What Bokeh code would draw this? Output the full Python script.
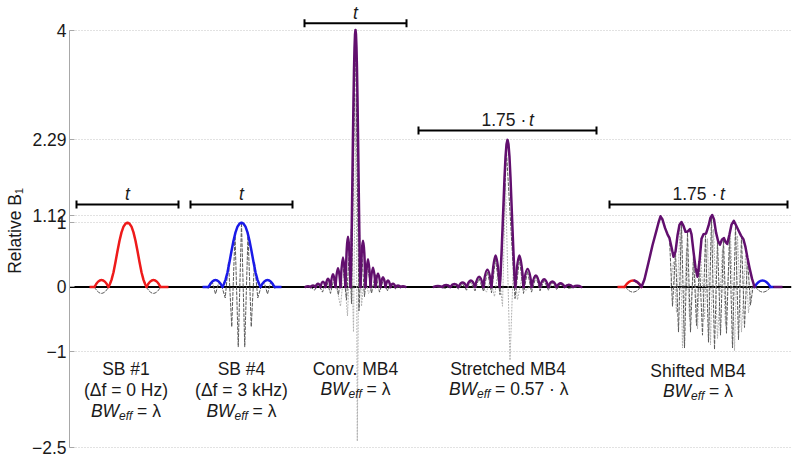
from bokeh.plotting import figure
from bokeh.models import Range1d, FixedTicker, Span
from bokeh.core.properties import value
from bokeh.embed import file_html
from bokeh.resources import INLINE

FONT = "Liberation Sans"
PURPLE = "#620f6e"
RED = "#ee1a1a"
BLUE = "#1a1ae8"
DASH_C = "#5a5a5a"
DOT_C = "#b0b0b0"
TEXT_C = "#1a1a1a"

# ---------------- data (time in arbitrary units, y = relative B1) ----------------
y_ticks = [-2.5, -1, 0, 1, 1.12, 2.29, 4]
y_tick_labels = ["\u22122.5", "\u22121", "0", "1", "1.12", "2.29", "4"]

# pulse centres
sb1_c = 127
sb4_c = 241
conv_c = 355
str_c = 507

# single-band main lobe: offset from centre, |B1|
sb_main_dt = [-19, -17.5, -16, -14, -12, -10, -8, -6, -4, -2, 0, 2, 4, 6, 8, 10, 12, 14, 16, 17.5, 19]
sb_main_b1 = [0, 0.05, 0.11, 0.23, 0.39, 0.56, 0.72, 0.85, 0.94, 0.985, 1.0, 0.985, 0.94, 0.85, 0.72,
              0.56, 0.39, 0.23, 0.11, 0.05, 0]

# SB #1 side lobes and flat tails
sb1_lobe_t0 = [94, 146]
sb1_lobe_t1 = [108, 160]
sb1_lobe_b1 = [0.11, 0.11]
sb1_lobe_re = [-0.1, -0.1]
sb1_tail_t0 = [89, 160]
sb1_tail_t1 = [94, 168]

# SB #4 side lobes, tails and modulated real part
sb4_lobe_t0 = [208, 260]
sb4_lobe_t1 = [222, 274]
sb4_lobe_b1 = [0.11, 0.11]
sb4_tail_t0 = [202, 274]
sb4_tail_t1 = [208, 281]
sb4_re_t = [205, 208.5, 211.75, 215, 218.25, 221.5, 224.75, 228, 231.25, 234.5, 237.75, 241,
            244.25, 247.5, 250.75, 254, 257.25, 260.5, 263.75, 267, 270.25, 273.5, 277]
sb4_re_b1 = [0, -0.02, 0.08, -0.11, 0.07, 0.0, -0.17, 0.39, -0.62, 0.83, -0.93, 1.0,
             -0.93, 0.83, -0.62, 0.39, -0.17, 0.0, 0.07, -0.11, 0.08, -0.02, 0]

# Conventional MB4
conv_spike_dt = [-5, -4.5, -4, -3.5, -3, -2.5, -2, -1.5, -1, -0.5, 0, 0.5, 1, 1.5, 2, 2.5, 3, 3.5, 4, 4.5, 5]
conv_spike_b1 = [0, 0.25, 0.68, 1.22, 1.8, 2.38, 2.92, 3.38, 3.72, 3.93, 4.0, 3.93, 3.72, 3.38, 2.92,
                 2.38, 1.8, 1.22, 0.68, 0.25, 0]
conv_lobe_t0 = [305, 310, 315, 320, 325, 330, 335, 340, 345, 360, 365, 370, 375, 380, 385, 390, 395, 400]
conv_lobe_t1 = [310, 315, 320, 325, 330, 335, 340, 345, 350, 365, 370, 375, 380, 385, 390, 395, 400, 405]
conv_lobe_b1 = [0.01, 0.025, 0.05, 0.08, 0.13, 0.2, 0.29, 0.46, 0.78, 0.72, 0.43, 0.3, 0.21, 0.15, 0.1,
                0.05, 0.025, 0.01]
conv_re_t = [310, 314, 318, 322, 326, 330, 334, 338, 342, 346, 349, 351, 355, 358.5, 361, 364, 367, 371,
             375, 379, 383, 387, 391, 395, 399, 403]
conv_re_b1 = [0, -0.05, 0.04, -0.08, 0.1, -0.1, 0.17, -0.12, 0.4, -0.2, 0.6, -0.26, 4.0, -0.37, 0.6,
              -0.15, 0.35, -0.1, 0.2, -0.08, 0.12, -0.06, 0.05, -0.03, 0.01, 0]
conv_im_t = [336, 340, 343.5, 347, 350.5, 353, 355.5, 356.8, 358.5, 361, 364, 368, 372]
conv_im_b1 = [0, -0.3, 0.25, -0.45, 0.9, -0.7, 3.0, -2.4, 1.2, -0.3, 0.2, -0.1, 0]

# Stretched MB4
str_spike_dt = [-7.75, -7, -6, -5, -4, -3, -2, -1, 0, 1, 2, 3, 4, 5, 6, 7, 7.75]
str_spike_b1 = [0, 0.18, 0.52, 0.9, 1.3, 1.7, 2.02, 2.22, 2.29, 2.22, 2.02, 1.7, 1.3, 0.9, 0.52, 0.18, 0]
str_lobe_t0 = [433.2, 441.5, 449.8, 458, 466.2, 474.5, 482.8, 491, 514.8, 523, 531.2, 539.5, 547.8, 556,
               564.2, 572.5]
str_lobe_t1 = [441.5, 449.8, 458, 466.2, 474.5, 482.8, 491, 499.2, 523, 531.2, 539.5, 547.8, 556, 564.2,
               572.5, 580.8]
str_lobe_b1 = [0.015, 0.03, 0.045, 0.07, 0.1, 0.16, 0.27, 0.49, 0.49, 0.28, 0.18, 0.12, 0.085, 0.06,
               0.035, 0.02]
str_re_t = [437, 445, 453, 458, 462, 466, 470, 474.5, 478.5, 483, 487, 491, 495, 499.5, 506, 514.5, 519,
            523, 527, 531, 535.5, 539.5, 543.5, 548, 552, 556, 560, 568, 576]
str_re_b1 = [0, -0.02, 0.03, -0.03, 0.05, -0.05, 0.08, -0.06, 0.14, -0.07, 0.24, -0.09, 0.44, -0.12, 2.1,
             -0.18, 0.44, -0.1, 0.25, -0.08, 0.16, -0.06, 0.1, -0.05, 0.07, -0.04, 0.04, -0.02, 0]
str_im_t = [482, 486, 490, 494, 498, 502, 505, 509.5, 513, 517, 521, 525, 529]
str_im_b1 = [0, -0.08, 0.12, -0.15, 0.3, -0.3, 1.6, -1.14, 0.4, -0.2, 0.12, -0.06, 0]

# Shifted MB4
sh_t = [634, 636.5, 639, 641, 644, 648, 652, 656, 658, 660, 662, 664.5, 667, 669, 671, 673, 675, 677, 679,
        681, 683, 685, 687, 689.5, 691, 693, 695, 697, 699, 701, 703, 705.5, 708, 710, 711.7, 713.5, 715.5,
        717.5, 719.5, 721.5, 723.5, 725, 726.7, 729, 731, 733.3, 735.5, 738, 740.5, 743, 745, 747, 749,
        751.5, 754]
sh_b1 = [0.1, 0.08, 0.045, 0, 0.12, 0.38, 0.65, 0.88, 1.0, 1.1, 1.05, 0.92, 0.82, 0.76, 0.62, 0.47, 0.55,
         0.8, 0.97, 1.01, 0.95, 0.86, 0.86, 0.9, 0.82, 0.55, 0.3, 0.16, 0.4, 0.75, 0.82, 0.83, 0.95, 1.08,
         1.12, 1.05, 0.85, 0.72, 0.66, 0.74, 0.76, 0.7, 0.67, 0.82, 0.97, 1.03, 0.96, 0.88, 0.8, 0.74, 0.62,
         0.45, 0.3, 0.13, 0]
sh_red_tail_t = [617, 624]
sh_red_lobe = [624, 641, 0.1]
sh_blue_lobe = [754, 770, 0.1]
sh_blue_tail_t = [770, 773]
sh_end_tail_t = [773, 782]
sh_neg_t0 = [625, 755]
sh_neg_t1 = [640, 770]
sh_neg_b1 = [-0.08, -0.08]
sh_re_t = [669, 672, 675, 678, 681, 684, 687, 690, 693, 696, 699, 702, 705, 708, 711, 714, 717, 720, 723,
           726, 729, 732, 735, 738, 741, 744, 747, 750, 753, 756]
sh_re_b1 = [0.76, -0.3, 0.55, -0.7, 1.0, -0.95, 0.85, -0.7, 0.5, -0.6, 0.38, -0.75, 0.8, -0.86, 1.08,
            -0.97, 0.72, -0.75, 0.74, -0.72, 0.8, -0.95, 0.95, -0.82, 0.78, -0.63, 0.45, -0.28, 0.05, 0]
sh_im_t = [670, 673, 676, 679.5, 682, 686, 689, 694, 697, 700, 704, 707, 710, 713, 717, 722, 725, 730, 734,
           737, 741, 745, 748, 751]
sh_im_b1 = [0, 0.4, -0.4, 0.9, -0.95, 0.6, -0.5, 0.4, -0.65, 0.55, -0.5, 0.75, -0.9, 0.9, -0.8, 0.6, -0.6,
            0.8, -0.99, 0.8, -0.7, 0.5, -0.4, 0]

# pulse-duration bars
bar_t0 = [76, 190, 304, 418, 609]
bar_t1 = [178, 292, 406, 596, 787]
bar_level = [1.284, 1.284, 4.106, 2.436, 1.284]
bar_prefix = ["", "", "", "1.75 \u00b7", "1.75 \u00b7"]

# pulse captions
cap_x = [125.5, 241, 355, 507.5, 697.5]
cap_name = ["SB #1", "SB #4", "Conv. MB4", "Stretched MB4", "Shifted MB4"]
cap_df = ["(\u0394f = 0 Hz)", "(\u0394f = 3 kHz)", "", "", ""]
cap_bw = ["= \u03bb", "= \u03bb", "= \u03bb", "= 0.57 \u00b7 \u03bb", "= \u03bb"]

# ---------------- figure ----------------
p = figure(width=800, height=461, output_backend="svg", toolbar_location=None,
           x_axis_type=None, x_range=Range1d(69, 791), y_range=Range1d(-2.7164, 4.4592),
           min_border_left=69, min_border_right=9, min_border_top=0, min_border_bottom=0)
p.outline_line_color = None
p.background_fill_color = "white"

ax = p.yaxis[0]
ax.ticker = FixedTicker(ticks=y_ticks)
ax.major_label_overrides = {t: l for t, l in zip(y_ticks, y_tick_labels)}
ax.bounds = (-2.5, 4)
ax.axis_line_color = "#a8a8a8"
ax.major_tick_line_color = "#a8a8a8"
ax.major_tick_in = 5
ax.major_tick_out = 0
ax.minor_tick_line_color = None
ax.major_label_text_font = FONT
ax.major_label_text_font_size = "17.5px"
ax.major_label_text_color = TEXT_C
ax.major_label_standoff = 3
ax.axis_label = "Relative B\u2081"
ax.axis_label_text_font = FONT
ax.axis_label_text_font_size = "17.5px"
ax.axis_label_text_font_style = "normal"
ax.axis_label_text_color = TEXT_C
ax.axis_label_standoff = 4

p.ygrid.grid_line_color = "#c4c4c4"
p.ygrid.grid_line_dash = "1 2"
p.ygrid.grid_line_width = 1

p.add_layout(Span(location=0, dimension="width", line_color="black", line_width=2, level="underlay"))

W = 2.5


def lobes(t0, t1, h, color, width, dash="solid"):
    p.quadratic(x0=t0, y0=[0] * len(t0), x1=t1, y1=[0] * len(t1),
                cx=[(a + b) / 2 for a, b in zip(t0, t1)], cy=[2 * v for v in h],
                line_color=color, line_width=width, line_dash=dash, line_cap="round")


def curve(t, v, color, width, dash="solid"):
    p.line(t, v, line_color=color, line_width=width, line_dash=dash, line_join="round", line_cap="round")


# ---- light dotted and dark dashed (complex) components ----
curve(conv_im_t, conv_im_b1, DOT_C, 1, "1 2")
curve(str_im_t, str_im_b1, DOT_C, 1, "1 2")
curve(sh_im_t, sh_im_b1, DOT_C, 1, "1 2")

curve([sb1_c + d for d in sb_main_dt], sb_main_b1, DASH_C, 1, "3 2")
lobes(sb1_lobe_t0, sb1_lobe_t1, sb1_lobe_re, DASH_C, 1, "3 2")
curve(sb4_re_t, sb4_re_b1, DASH_C, 1, "3 2")
curve(conv_re_t, conv_re_b1, DASH_C, 1, "3 2")
curve(str_re_t, str_re_b1, DASH_C, 1, "3 2")
curve(sh_re_t, sh_re_b1, DASH_C, 1, "3 2")
lobes(sh_neg_t0, sh_neg_t1, sh_neg_b1, DASH_C, 1, "3 2")

# ---- magnitudes ----
# SB #1
curve([sb1_c + d for d in sb_main_dt], sb_main_b1, RED, W)
lobes(sb1_lobe_t0, sb1_lobe_t1, sb1_lobe_b1, RED, W)
p.segment(x0=sb1_tail_t0, y0=[0, 0], x1=sb1_tail_t1, y1=[0, 0], line_color=RED, line_width=W)
# SB #4
curve([sb4_c + d for d in sb_main_dt], sb_main_b1, BLUE, W)
lobes(sb4_lobe_t0, sb4_lobe_t1, sb4_lobe_b1, BLUE, W)
p.segment(x0=sb4_tail_t0, y0=[0, 0], x1=sb4_tail_t1, y1=[0, 0], line_color=BLUE, line_width=W)
# Conventional MB4
curve([conv_c + d for d in conv_spike_dt], conv_spike_b1, PURPLE, W)
lobes(conv_lobe_t0, conv_lobe_t1, conv_lobe_b1, PURPLE, W)
# Stretched MB4
curve([str_c + d for d in str_spike_dt], str_spike_b1, PURPLE, W)
lobes(str_lobe_t0, str_lobe_t1, str_lobe_b1, PURPLE, W)
# Shifted MB4
p.segment(x0=[sh_red_tail_t[0]], y0=[0], x1=[sh_red_tail_t[1]], y1=[0], line_color=RED, line_width=W)
lobes([sh_red_lobe[0]], [sh_red_lobe[1]], [sh_red_lobe[2]], RED, W)
lobes([sh_blue_lobe[0]], [sh_blue_lobe[1]], [sh_blue_lobe[2]], BLUE, W)
p.segment(x0=[sh_blue_tail_t[0]], y0=[0], x1=[sh_blue_tail_t[1]], y1=[0], line_color=BLUE, line_width=W)
p.segment(x0=[sh_end_tail_t[0]], y0=[0], x1=[sh_end_tail_t[1]], y1=[0], line_color=PURPLE, line_width=W)
curve(sh_t, sh_b1, PURPLE, W)

# ---- duration bars ----
CAP = 0.062
p.segment(x0=bar_t0, y0=bar_level, x1=bar_t1, y1=bar_level, line_color="black", line_width=2)
p.segment(x0=bar_t0 + bar_t1, y0=[v - CAP for v in bar_level] * 2,
          x1=bar_t0 + bar_t1, y1=[v + CAP for v in bar_level] * 2, line_color="black", line_width=2)

RAISE = -6  # screen-pixel lift so that text baselines land where the reference has them


def txt(x, y, s, size="17.5px", style="normal", align="center", dx=0, dy=0):
    p.text(x=x, y=y, text=s, text_font=value(FONT), text_font_size=size, text_font_style=style,
           text_align=align, text_baseline="alphabetic", text_color=TEXT_C, x_offset=dx, y_offset=dy + RAISE)


LBL_GAP = 0.07
for a, b, lv, pre in zip(bar_t0, bar_t1, bar_level, bar_prefix):
    xc = (a + b) / 2
    if pre:
        txt([xc], [lv + LBL_GAP], [pre], align="left", dx=-26)
        txt([xc], [lv + LBL_GAP], ["t"], style="italic", align="left", dx=21.5)
    else:
        txt([xc], [lv + LBL_GAP], ["t"], style="italic")

# ---- captions ----
row_name = [-1.377, -1.377, -1.370, -1.370, -1.401]
row_bw = [-2.031, -2.031, -1.689, -1.689, -1.720]
rest_w = [24.0, 24.0, 24.0, 72.0, 24.0]
BW_W = 28.2
EFF_W = 13.2
for x, nm, df, bw, yn, yb, rw in zip(cap_x, cap_name, cap_df, cap_bw, row_name, row_bw, rest_w):
    txt([x], [yn], [nm])
    if df:
        txt([x], [-1.697], [df])
    total = BW_W + EFF_W + 4.8 + rw
    left = -total / 2
    txt([x], [yb], ["BW"], style="italic", align="left", dx=left)
    txt([x], [yb], ["eff"], size="12px", style="italic", align="left", dx=left + BW_W, dy=5)
    txt([x], [yb], [bw], align="left", dx=left + BW_W + EFF_W + 4.8)

open("out.html", "w").write(file_html(p, INLINE))
